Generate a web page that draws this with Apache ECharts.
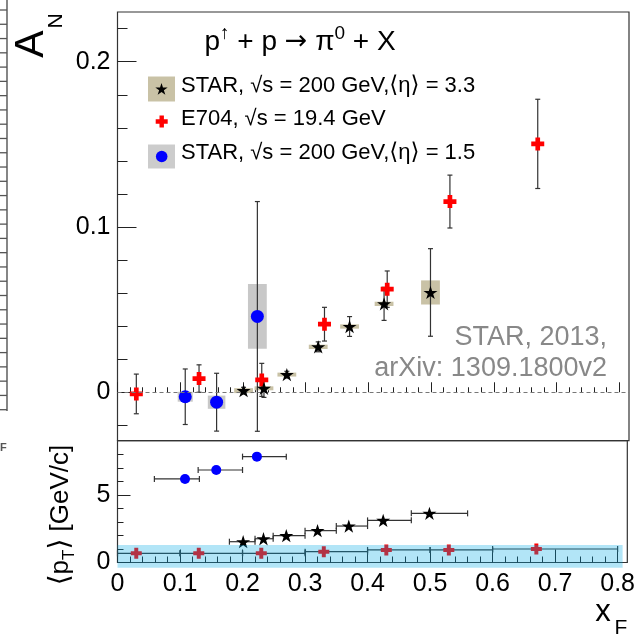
<!DOCTYPE html>
<html><head><meta charset="utf-8">
<script src="https://cdn.jsdelivr.net/npm/echarts@6/dist/echarts.min.js"></script>
<style>html,body{margin:0;padding:0;background:#fff}#c{width:638px;height:636px}</style>
</head><body><div id="c"></div>
<script>
// ---------- DATA ----------
// STAR, sqrt(s)=200 GeV, <eta>=3.3 (stars)
const starX    = [0.201, 0.2335, 0.270, 0.320, 0.370, 0.425, 0.499];
const starAN   = [0.001, 0.0024, 0.0107, 0.0275, 0.0398, 0.0535, 0.0604];
const starStat = [0.0020, 0.0055, 0.0020, 0.0030, 0.0060, 0.0100, 0.0265];
const starSys  = [0.0015, 0.0012, 0.0012, 0.0013, 0.0013, 0.0013, 0.0073];
const starPt   = [1.54, 1.76, 1.99, 2.36, 2.70, 3.12, 3.64];
const starXLo  = [0.179, 0.220, 0.249, 0.300, 0.350, 0.400, 0.470];
const starXHi  = [0.220, 0.249, 0.300, 0.350, 0.400, 0.470, 0.560];
// E704, sqrt(s)=19.4 GeV (red crosses)
const e704X    = [0.03, 0.13, 0.23, 0.33, 0.43, 0.53, 0.67];
const e704AN   = [-0.001, 0.0083, 0.0075, 0.0412, 0.0624, 0.1154, 0.1503];
const e704Err  = [0.012, 0.0083, 0.010, 0.0102, 0.011, 0.016, 0.027];
const e704Pt   = [0.68, 0.68, 0.68, 0.80, 0.93, 0.93, 1.00];
const e704XLo  = [0.0, 0.1, 0.2, 0.3, 0.4, 0.5, 0.6];
const e704XHi  = [0.1, 0.2, 0.3, 0.4, 0.5, 0.6, 0.8];
// STAR, sqrt(s)=200 GeV, <eta>=1.5 (blue circles)
const midX     = [0.108, 0.158, 0.223];
const midAN    = [-0.0027, -0.0060, 0.0459];
const midStat  = [0.0168, 0.0175, 0.0695];
const midSys   = [0.0030, 0.0040, 0.0196];
const midPt    = [6.19, 6.85, 7.84];
const midXLo   = [0.059, 0.129, 0.200];
const midXHi   = [0.131, 0.200, 0.270];
// box half widths (in xF)
const starBoxHW = [0.015, 0.015, 0.015, 0.015, 0.015, 0.015, 0.015];
const midBoxHW  = [0.012, 0.014, 0.015];
// pT band
const bandX = [0, 0.808];
const bandY = [-0.385, 1.30];
// axis ticks / labels
const xTickLabels = [0, 0.1, 0.2, 0.3, 0.4, 0.5, 0.6, 0.7, 0.8];
const anTickLabels = [0, 0.1, 0.2];
const ptTickLabels = [0, 5];
const legendLabels = ['STAR, \u221As = 200 GeV,{ang|\u27E8}\u03B7{ang|\u27E9} = 3.3', 'E704, \u221As = 19.4 GeV', 'STAR, \u221As = 200 GeV,{ang|\u27E8}\u03B7{ang|\u27E9} = 1.5'];
const noteLines = ['STAR, 2013,', 'arXiv: 1309.1800v2'];

// ---------- helpers ----------
const FF = "'Liberation Sans', Arial, Helvetica, sans-serif";
const FD = "'DejaVu Sans', sans-serif";
const XMAX = 0.8155;
const xMinor = []; for (let i = 1; i <= 40; i++) if (i % 5) xMinor.push(+(i * 0.02).toFixed(2));
const anMinor = [-0.02]; for (let i = 1; i <= 11; i++) if (i % 5) anMinor.push(+(i * 0.02).toFixed(2));
const ptMinor = [1, 2, 3, 4, 6, 7, 8];

function starPts(cx, cy, R) {
  const pts = [];
  for (let k = 0; k < 10; k++) {
    const r = k % 2 ? R * 0.382 : R;
    const a = -Math.PI / 2 + k * Math.PI / 5;
    pts.push([cx + r * Math.cos(a), cy + r * Math.sin(a)]);
  }
  return pts;
}
function crossPts(cx, cy, s, t) {
  const h = s / 2, w = t / 2;
  return [[cx - w, cy - h], [cx + w, cy - h], [cx + w, cy - w], [cx + h, cy - w], [cx + h, cy + w], [cx + w, cy + w],
          [cx + w, cy + h], [cx - w, cy + h], [cx - w, cy + w], [cx - h, cy + w], [cx - h, cy - w], [cx - w, cy - w]];
}
const toPath = pts => 'path://M' + pts.map(p => p[0].toFixed(2) + ',' + p[1].toFixed(2)).join('L') + 'Z';
const STAR = toPath(starPts(50, 50, 50));
const CROSS = toPath(crossPts(50, 50, 100, 36));

const ERRC = '#333';
function boxItem(color) {
  return function (params, api) {
    const x = api.value(0), y = api.value(1), hw = api.value(2), hh = api.value(3);
    const p1 = api.coord([x - hw, y + hh]), p2 = api.coord([x + hw, y - hh]);
    return { type: 'rect', shape: { x: p1[0], y: p1[1], width: p2[0] - p1[0], height: p2[1] - p1[1] }, style: { fill: color } };
  };
}
function vErr(params, api) {
  const x = api.value(0), y = api.value(1), e = api.value(2);
  const t = api.coord([x, y + e]), b = api.coord([x, y - e]);
  const cw = 2.5, st = { stroke: ERRC, lineWidth: 1.2 };
  return { type: 'group', children: [
    { type: 'line', shape: { x1: t[0], y1: t[1], x2: b[0], y2: b[1] }, style: st },
    { type: 'line', shape: { x1: t[0] - cw, y1: t[1], x2: t[0] + cw, y2: t[1] }, style: st },
    { type: 'line', shape: { x1: b[0] - cw, y1: b[1], x2: b[0] + cw, y2: b[1] }, style: st }
  ]};
}
function hErr(params, api) {
  const y = api.value(0), lo = api.value(1), hi = api.value(2);
  const l = api.coord([lo, y]), r = api.coord([hi, y]);
  const ch = 3, st = { stroke: ERRC, lineWidth: 1.2 };
  return { type: 'group', children: [
    { type: 'line', shape: { x1: l[0], y1: l[1], x2: r[0], y2: r[1] }, style: st },
    { type: 'line', shape: { x1: l[0], y1: l[1] - ch, x2: l[0], y2: l[1] + ch }, style: st },
    { type: 'line', shape: { x1: r[0], y1: r[1] - ch, x2: r[0], y2: r[1] + ch }, style: st }
  ]};
}

const chart = echarts.init(document.getElementById('c'), null, { renderer: 'canvas' });

function tickAxis(kind, grid, min, max, values, len, labels) {
  return {
    type: 'value', gridIndex: grid, min: min, max: max,
    position: kind === 'x' ? 'bottom' : 'left',
    axisLine: { show: false },
    splitLine: { show: false },
    axisTick: { show: true, inside: true, length: len, customValues: values, lineStyle: { color: '#222', width: 1 } },
    axisLabel: labels ? { show: true, customValues: labels, fontFamily: FF, fontSize: 25, color: '#000',
                          margin: kind === 'x' ? 9 : 7, formatter: v => String(v) } : { show: false }
  };
}

// left strip artifact
const strip = [{ type: 'line', shape: { x1: 7, y1: 0, x2: 7, y2: 411 }, style: { stroke: '#444', lineWidth: 1.3 } }];
for (let k = 0; k < 29; k++) {
  const y = 10 + k * 14.275;
  strip.push({ type: 'line', shape: { x1: 0, y1: y, x2: 7, y2: y }, style: { stroke: '#555', lineWidth: 1.3 } });
}
strip.push({ type: 'text', x: 0, y: 442, style: { text: 'F', fontFamily: FF, fontSize: 11, fontWeight: 'bold', fill: '#555' } });

const angRich = { ang: { fontFamily: FD, fontSize: 23, fill: '#000' } };
const legendY = [86, 119, 153];
const graphics = strip.concat([
  // title
  { type: 'text', x: 300, y: 42, style: { text: 'p{sup|\u2191} + p {arr|\u2192} \u03C0{sup|0} + X', fontFamily: FF, fontSize: 28, lineHeight: 36,
      align: 'center', verticalAlign: 'middle', fill: '#000',
      rich: { sup: { fontFamily: FF, fontSize: 19, lineHeight: 28, verticalAlign: 'top', fill: '#000' },
              arr: { fontFamily: FD, fontSize: 27, fill: '#000' } } } },
  // legend
  { type: 'rect', shape: { x: 148, y: 76.5, width: 27, height: 25 }, style: { fill: '#c9c2a6' } },
  { type: 'polygon', shape: { points: starPts(161.5, 89.5, 6.5) }, style: { fill: '#000' } },
  { type: 'polygon', shape: { points: crossPts(161.7, 121.5, 12, 4.4) }, style: { fill: '#ff0000' } },
  { type: 'rect', shape: { x: 148, y: 144.5, width: 27, height: 24 }, style: { fill: '#cccccc' } },
  { type: 'circle', shape: { cx: 161.7, cy: 156.5, r: 5.8 }, style: { fill: '#0000ff' } },
  { type: 'text', x: 181, y: legendY[0], style: { text: legendLabels[0], fontFamily: FF, fontSize: 22, verticalAlign: 'middle', fill: '#000', rich: angRich } },
  { type: 'text', x: 181, y: legendY[1], style: { text: legendLabels[1], fontFamily: FF, fontSize: 22, verticalAlign: 'middle', fill: '#000', rich: angRich } },
  { type: 'text', x: 181, y: legendY[2], style: { text: legendLabels[2], fontFamily: FF, fontSize: 22, verticalAlign: 'middle', fill: '#000', rich: angRich } },
  // note
  { type: 'text', x: 607, y: 338, style: { text: noteLines[0], fontFamily: FF, fontSize: 27, align: 'right', verticalAlign: 'middle', fill: '#888' } },
  { type: 'text', x: 607, y: 368.5, style: { text: noteLines[1], fontFamily: FF, fontSize: 27, align: 'right', verticalAlign: 'middle', fill: '#888' } },
  // axis titles
  { type: 'text', x: 32, y: 44, rotation: Math.PI / 2, style: { text: 'A', fontFamily: FF, fontSize: 41, align: 'center', verticalAlign: 'middle', fill: '#000' } },
  { type: 'text', x: 56, y: 21, rotation: Math.PI / 2, style: { text: 'N', fontFamily: FF, fontSize: 21, align: 'center', verticalAlign: 'middle', fill: '#000' } },
  { type: 'text', x: 61, y: 515, rotation: Math.PI / 2, style: { text: '{ang|\u27E8}p{sub|T}{ang|\u27E9} [GeV/c]', fontFamily: FF, fontSize: 26, lineHeight: 34,
      align: 'center', verticalAlign: 'middle', fill: '#000',
      rich: { sub: { fontFamily: FF, fontSize: 17, lineHeight: 17, verticalAlign: 'bottom', fill: '#000' },
              ang: { fontFamily: FD, fontSize: 28, fill: '#000' } } } },
  { type: 'text', x: 603, y: 612.5, style: { text: 'x', fontFamily: FF, fontSize: 31, align: 'center', verticalAlign: 'middle', fill: '#000' } },
  { type: 'text', x: 621, y: 628, style: { text: 'F', fontFamily: FF, fontSize: 21, align: 'center', verticalAlign: 'middle', fill: '#000' } }
]);

const option = {
  animation: false,
  backgroundColor: '#fff',
  grid: [
    { left: 117.5, top: 12, width: 511.5, height: 428.7, show: true, borderColor: '#333', borderWidth: 1.2, backgroundColor: 'transparent' },
    { left: 117.5, top: 440.7, width: 511.5, height: 121.8, show: true, borderColor: '#333', borderWidth: 1.2, backgroundColor: 'transparent' }
  ],
  xAxis: [
    tickAxis('x', 0, 0, XMAX, xTickLabels, 10, null),
    tickAxis('x', 0, 0, XMAX, xMinor, 5, null),
    tickAxis('x', 1, 0, XMAX, xTickLabels, 13, xTickLabels),
    tickAxis('x', 1, 0, XMAX, xMinor, 6, null)
  ],
  yAxis: [
    tickAxis('y', 0, -0.0293, 0.2301, anTickLabels, 19, anTickLabels),
    tickAxis('y', 0, -0.0293, 0.2301, anMinor, 10, null),
    tickAxis('y', 1, 0, 9.02, ptTickLabels, 13, ptTickLabels),
    tickAxis('y', 1, 0, 9.02, ptMinor, 6, null)
  ],
  series: [
    // ---- upper panel ----
    { type: 'custom', xAxisIndex: 0, yAxisIndex: 0, z: 1, renderItem: boxItem('#c9c2a6'),
      data: starX.map((x, i) => [x, starAN[i], starBoxHW[i], starSys[i]]),
      markLine: { silent: true, symbol: ['none', 'none'], label: { show: false },
        lineStyle: { color: '#777', type: [4, 3], width: 1.2 }, data: [{ yAxis: 0 }] } },
    { type: 'custom', xAxisIndex: 0, yAxisIndex: 0, z: 1, renderItem: boxItem('#c8c8c8'),
      data: midX.map((x, i) => [x, midAN[i], midBoxHW[i], midSys[i]]) },
    { type: 'custom', xAxisIndex: 0, yAxisIndex: 0, z: 2, renderItem: vErr, data: midX.map((x, i) => [x, midAN[i], midStat[i]]) },
    { type: 'custom', xAxisIndex: 0, yAxisIndex: 0, z: 2, renderItem: vErr, data: e704X.map((x, i) => [x, e704AN[i], e704Err[i]]) },
    { type: 'custom', xAxisIndex: 0, yAxisIndex: 0, z: 2, renderItem: vErr, data: starX.map((x, i) => [x, starAN[i], starStat[i]]) },
    { type: 'scatter', xAxisIndex: 0, yAxisIndex: 0, z: 3, symbol: 'circle', symbolSize: 13, itemStyle: { color: '#0000ff', opacity: 1 },
      data: midX.map((x, i) => [x, midAN[i]]) },
    { type: 'scatter', xAxisIndex: 0, yAxisIndex: 0, z: 4, symbol: CROSS, symbolSize: 13, itemStyle: { color: '#ff0000', opacity: 1 },
      data: e704X.map((x, i) => [x, e704AN[i]]) },
    { type: 'scatter', xAxisIndex: 0, yAxisIndex: 0, z: 5, symbol: STAR, symbolSize: [14, 13.3], itemStyle: { color: '#000', opacity: 1 },
      data: starX.map((x, i) => [x, starAN[i]]) },
    // ---- lower panel ----
    { type: 'custom', xAxisIndex: 2, yAxisIndex: 2, z: 2, renderItem: hErr, data: midX.map((x, i) => [midPt[i], midXLo[i], midXHi[i]]) },
    { type: 'custom', xAxisIndex: 2, yAxisIndex: 2, z: 2, renderItem: hErr, data: starX.map((x, i) => [starPt[i], starXLo[i], starXHi[i]]) },
    { type: 'custom', xAxisIndex: 2, yAxisIndex: 2, z: 2, renderItem: hErr, data: e704X.map((x, i) => [e704Pt[i], e704XLo[i], e704XHi[i]]) },
    { type: 'scatter', xAxisIndex: 2, yAxisIndex: 2, z: 3, symbol: 'circle', symbolSize: 10, itemStyle: { color: '#0000ff', opacity: 1 },
      data: midX.map((x, i) => [x, midPt[i]]) },
    { type: 'scatter', xAxisIndex: 2, yAxisIndex: 2, z: 3, symbol: CROSS, symbolSize: 11, itemStyle: { color: '#ff0000', opacity: 1 },
      data: e704X.map((x, i) => [x, e704Pt[i]]) },
    { type: 'scatter', xAxisIndex: 2, yAxisIndex: 2, z: 3, symbol: STAR, symbolSize: [14, 13.3], itemStyle: { color: '#000', opacity: 1 },
      data: starX.map((x, i) => [x, starPt[i]]) },
    { type: 'custom', xAxisIndex: 2, yAxisIndex: 2, z: 10, clip: false,
      renderItem: function (params, api) {
        const p1 = api.coord([api.value(0), api.value(3)]), p2 = api.coord([api.value(1), api.value(2)]);
        return { type: 'rect', shape: { x: p1[0], y: p1[1], width: p2[0] - p1[0], height: p2[1] - p1[1] }, style: { fill: 'rgba(0,170,230,0.3)' } };
      },
      data: [[bandX[0], bandX[1], bandY[0], bandY[1]]] }
  ],
  graphic: graphics
};
chart.setOption(option);
</script></body></html>
